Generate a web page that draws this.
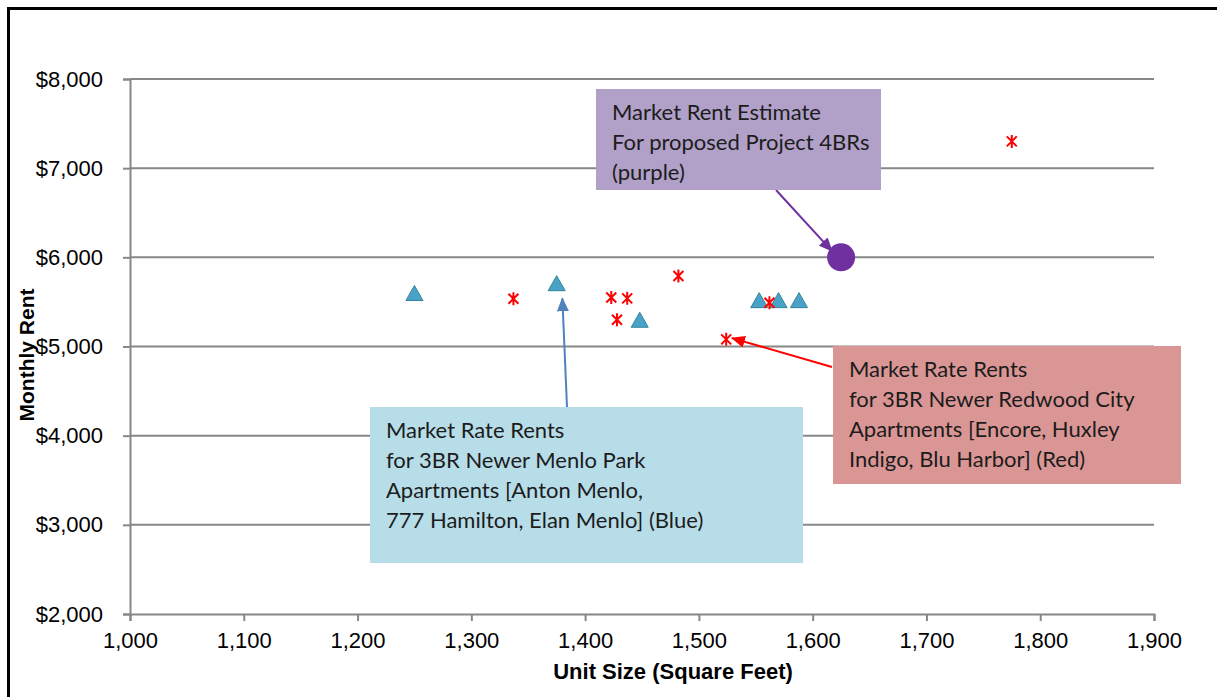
<!DOCTYPE html>
<html>
<head>
<meta charset="utf-8">
<script src="https://cdn.jsdelivr.net/npm/d3@7"></script>
<style>
  body { margin: 0; background: #fff; }
  svg { display: block; }
</style>
</head>
<body>
<div id="chart"></div>
<script>
// Menlo Park comps (blue triangles)
const menloSize = [1250, 1375, 1448, 1553, 1570, 1588];
const menloRent = [5600, 5710, 5300, 5520, 5520, 5520];
// Redwood City comps (red stars)
const redwoodSize = [1337, 1423, 1437, 1428, 1482, 1524, 1562, 1775];
const redwoodRent = [5535, 5550, 5540, 5300, 5790, 5080, 5490, 7300];
// proposed project estimate (purple dot)
const projectSize = [1625];
const projectRent = [6000];

const xTicks = [1000, 1100, 1200, 1300, 1400, 1500, 1600, 1700, 1800, 1900];
const yTicks = [2000, 3000, 4000, 5000, 6000, 7000, 8000];

const purpleNote = ["Market Rent Estimate", "For proposed Project 4BRs", "(purple)"];
const redNote = ["Market Rate Rents", "for 3BR Newer Redwood City", "Apartments [Encore, Huxley", "Indigo, Blu Harbor] (Red)"];
const blueNote = ["Market Rate Rents", "for 3BR Newer Menlo Park", "Apartments [Anton Menlo,", "777 Hamilton, Elan Menlo] (Blue)"];

const width = 1217;
const height = 697;
const margin = { top: 79, right: 63, bottom: 83, left: 130 };

const svg = d3
  .select("#chart")
  .append("svg")
  .attr("width", width)
  .attr("height", height)
  .style("background", "#fff");

const x = d3
  .scaleLinear()
  .domain([1000, 1900])
  .range([margin.left, width - margin.right]);

const y = d3
  .scaleLinear()
  .domain([2000, 8000])
  .range([height - margin.bottom, margin.top]);

const gridColor = "#878787";
const tickFont = "'Liberation Sans', Arial, sans-serif";

// outer frame (only top and left visible in the crop)
svg
  .append("path")
  .attr("d", `M8.5,${height} L8.5,8.5 L${width},8.5`)
  .attr("fill", "none")
  .attr("stroke", "#000")
  .attr("stroke-width", 3);

// horizontal gridlines
svg
  .append("g")
  .selectAll("line")
  .data(yTicks.slice(1))
  .join("line")
  .attr("x1", x(1000))
  .attr("x2", x(1900))
  .attr("y1", d => y(d))
  .attr("y2", d => y(d))
  .attr("stroke", gridColor)
  .attr("stroke-width", 2);

// axes
const xAxis = svg
  .append("g")
  .attr("transform", `translate(0,${y(2000)})`)
  .call(
    d3
      .axisBottom(x)
      .tickValues(xTicks)
      .tickSize(7)
      .tickPadding(11)
      .tickFormat(d3.format(","))
  );

const yAxis = svg
  .append("g")
  .attr("transform", `translate(${x(1000)},0)`)
  .call(
    d3
      .axisLeft(y)
      .tickValues(yTicks)
      .tickSize(7)
      .tickPadding(20)
      .tickFormat(d => "$" + d3.format(",")(d))
  );

[xAxis, yAxis].forEach(axis => {
  axis.select(".domain").attr("stroke", gridColor).attr("stroke-width", 2);
  axis.selectAll(".tick line").attr("stroke", gridColor).attr("stroke-width", 2);
  axis
    .selectAll(".tick text")
    .attr("fill", "#000")
    .style("font-family", tickFont)
    .style("font-size", "22px");
});

// axis titles
svg
  .append("text")
  .attr("x", 673)
  .attr("y", 679)
  .attr("text-anchor", "middle")
  .style("font-family", tickFont)
  .style("font-size", "22px")
  .style("font-weight", "bold")
  .text("Unit Size (Square Feet)");

svg
  .append("text")
  .attr("transform", "translate(34,355) rotate(-90)")
  .attr("text-anchor", "middle")
  .style("font-family", tickFont)
  .style("font-size", "21px")
  .style("font-weight", "bold")
  .text("Monthly Rent");

// arrowheads
const defs = svg.append("defs");
function addArrowHead(id, color) {
  defs
    .append("marker")
    .attr("id", id)
    .attr("markerUnits", "userSpaceOnUse")
    .attr("markerWidth", 14)
    .attr("markerHeight", 12)
    .attr("refX", 13)
    .attr("refY", 6)
    .attr("orient", "auto")
    .append("path")
    .attr("d", "M0,0 L14,6 L0,12 Z")
    .attr("fill", color);
}
addArrowHead("arrow-purple", "#7030a0");
addArrowHead("arrow-red", "#ff0000");
addArrowHead("arrow-blue", "#4f81bd");

// callout boxes: box in px, arrow tip in data units
const notes = [
  { lines: purpleNote, fill: "#b1a0c7", box: [596, 89, 285, 101], from: [776, 190], tip: [1617, 6070], arrow: "arrow-purple", color: "#7030a0" },
  { lines: redNote, fill: "#da9694", box: [833, 346, 348, 138], from: [832, 367], tip: [1529, 5094], arrow: "arrow-red", color: "#ff0000" },
  { lines: blueNote, fill: "#b7dde8", box: [370, 407, 433, 156], from: [567, 407], tip: [1380, 5540], arrow: "arrow-blue", color: "#4f81bd" }
];

notes.forEach(note => {
  svg
    .append("line")
    .attr("x1", note.from[0])
    .attr("y1", note.from[1])
    .attr("x2", x(note.tip[0]))
    .attr("y2", y(note.tip[1]))
    .attr("stroke", note.color)
    .attr("stroke-width", 2)
    .attr("marker-end", `url(#${note.arrow})`);

  const g = svg.append("g");
  g.append("rect")
    .attr("x", note.box[0])
    .attr("y", note.box[1])
    .attr("width", note.box[2])
    .attr("height", note.box[3])
    .attr("fill", note.fill);

  g.append("text")
    .attr("x", note.box[0] + 16)
    .attr("y", note.box[1] + 31)
    .style("font-family", "Lato, 'Open Sans', sans-serif")
    .style("font-size", "22px")
    .attr("fill", "#1c1c1c")
    .selectAll("tspan")
    .data(note.lines)
    .join("tspan")
    .attr("x", note.box[0] + 16)
    .attr("dy", (d, i) => (i === 0 ? 0 : 30))
    .text(d => d);
});

// blue triangles
svg
  .append("g")
  .selectAll("path")
  .data(menloSize.map((s, i) => [s, menloRent[i]]))
  .join("path")
  .attr("transform", d => `translate(${x(d[0])},${y(d[1])})`)
  .attr("d", "M0,-7.5 L8.5,7.5 L-8.5,7.5 Z")
  .attr("fill", "#4aa3c6")
  .attr("stroke", "#31849b")
  .attr("stroke-width", 1);

// red stars
svg
  .append("g")
  .selectAll("path")
  .data(redwoodSize.map((s, i) => [s, redwoodRent[i]]))
  .join("path")
  .attr("transform", d => `translate(${x(d[0])},${y(d[1])})`)
  .attr("d", "M-5,-5 L5,5 M-5,5 L5,-5 M0,-6.5 L0,6.5")
  .attr("fill", "none")
  .attr("stroke", "#ff0000")
  .attr("stroke-width", 2);

// purple estimate
svg
  .append("g")
  .selectAll("circle")
  .data(projectSize.map((s, i) => [s, projectRent[i]]))
  .join("circle")
  .attr("cx", d => x(d[0]))
  .attr("cy", d => y(d[1]))
  .attr("r", 14)
  .attr("fill", "#7030a0");
</script>
</body>
</html>
